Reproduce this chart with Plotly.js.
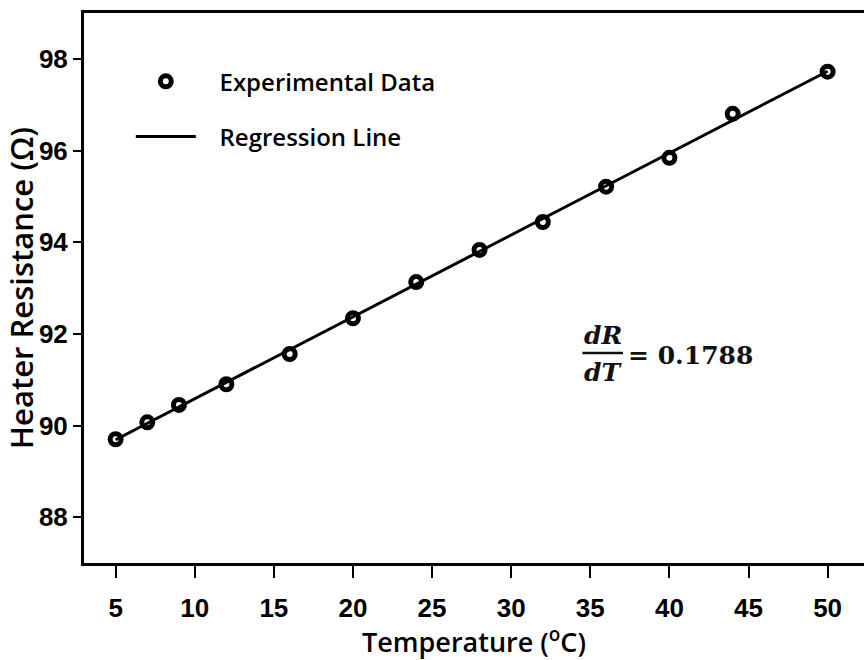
<!DOCTYPE html>
<html>
<head>
<meta charset="utf-8">
<script src="https://cdn.plot.ly/plotly-3.0.1.min.js"></script>
<style>html,body{margin:0;padding:0;background:#fff;}#chart{width:864px;height:660px;}</style>
</head>
<body>
<div id="chart"></div>
<script>
// Data
const temperature = [5, 7, 9, 12, 16, 20, 24, 28, 32, 36, 40, 44, 50];
const resistance = [89.70, 90.07, 90.45, 90.90, 91.56, 92.34, 93.13, 93.83, 94.44, 95.21, 95.84, 96.80, 97.72];
const regressionT = [5, 50];
const regressionR = [89.69, 97.73];
const xTicks = [5, 10, 15, 20, 25, 30, 35, 40, 45, 50];
const yTicks = [88, 90, 92, 94, 96, 98];
const slopeText = "0.1788";

const tickFont = {family: "Liberation Sans Narrow, Liberation Sans, Arial, sans-serif", size: 26, color: "#000", weight: 700};
const titleFont = {family: "Open Sans, Noto Sans, sans-serif", size: 27, color: "#000", weight: 600};
const mathFont = {family: "DejaVu Serif, Liberation Serif, serif", size: 25, color: "#111", weight: 700};
const pad = "\u00a0\u00a0\u00a0";

const traces = [
  {
    x: temperature, y: resistance, type: "scatter", mode: "markers",
    name: pad + "Experimental Data", legendgroup: "a",
    marker: {symbol: "circle-open", size: 11, color: "#000", line: {width: 5, color: "#000"}}
  },
  {
    x: regressionT, y: regressionR, type: "scatter", mode: "lines",
    name: pad + "Regression Line", legendgroup: "b",
    line: {color: "#000", width: 3}
  }
];

const layout = {
  width: 864, height: 660,
  margin: {l: 84, r: 0, t: 13, b: 97},
  paper_bgcolor: "#fff", plot_bgcolor: "#fff",
  showlegend: true,
  legend: {
    x: 0.06, y: 0.916, xanchor: "left", yanchor: "top",
    traceorder: "grouped", tracegroupgap: 21,
    itemwidth: 60,
    font: {family: "Open Sans, Noto Sans, sans-serif", size: 24, color: "#000", weight: 600},
    bgcolor: "rgba(0,0,0,0)"
  },
  xaxis: {
    range: [3, 52.3],
    tickvals: xTicks, ticktext: xTicks.map(String),
    showline: true, linecolor: "#000", linewidth: 3, mirror: true,
    ticks: "outside", ticklen: 12, tickwidth: 2, tickcolor: "#000",
    showgrid: false, zeroline: false,
    tickfont: tickFont, ticklabelstandoff: 8,
    title: {text: "Temperature (<sup>o</sup>C)", font: titleFont, standoff: 0}
  },
  yaxis: {
    range: [87, 99],
    tickvals: yTicks, ticktext: yTicks.map(String),
    showline: true, linecolor: "#000", linewidth: 3, mirror: false,
    ticks: "outside", ticklen: 8, tickwidth: 2, tickcolor: "#000",
    showgrid: false, zeroline: false,
    tickfont: tickFont,
    title: {text: "Heater Resistance (Ω)", font: {family: titleFont.family, size: 31, color: "#000", weight: 600}, standoff: 8}
  },
  shapes: [
    {type: "line", xref: "paper", yref: "paper", x0: 0.639, x1: 0.691, y0: 0.382, y1: 0.382, line: {color: "#111", width: 2.5}}
  ],
  annotations: [
    {xref: "paper", yref: "paper", x: 0.665, y: 0.414, text: "<i>dR</i>", showarrow: false, xanchor: "center", yanchor: "middle", font: mathFont},
    {xref: "paper", yref: "paper", x: 0.665, y: 0.347, text: "<i>dT</i>", showarrow: false, xanchor: "center", yanchor: "middle", font: mathFont},
    {xref: "paper", yref: "paper", x: 0.695, y: 0.378, text: "= " + slopeText, showarrow: false, xanchor: "left", yanchor: "middle", font: mathFont}
  ]
};

Plotly.newPlot("chart", traces, layout, {displayModeBar: false, staticPlot: true});
</script>
</body>
</html>
